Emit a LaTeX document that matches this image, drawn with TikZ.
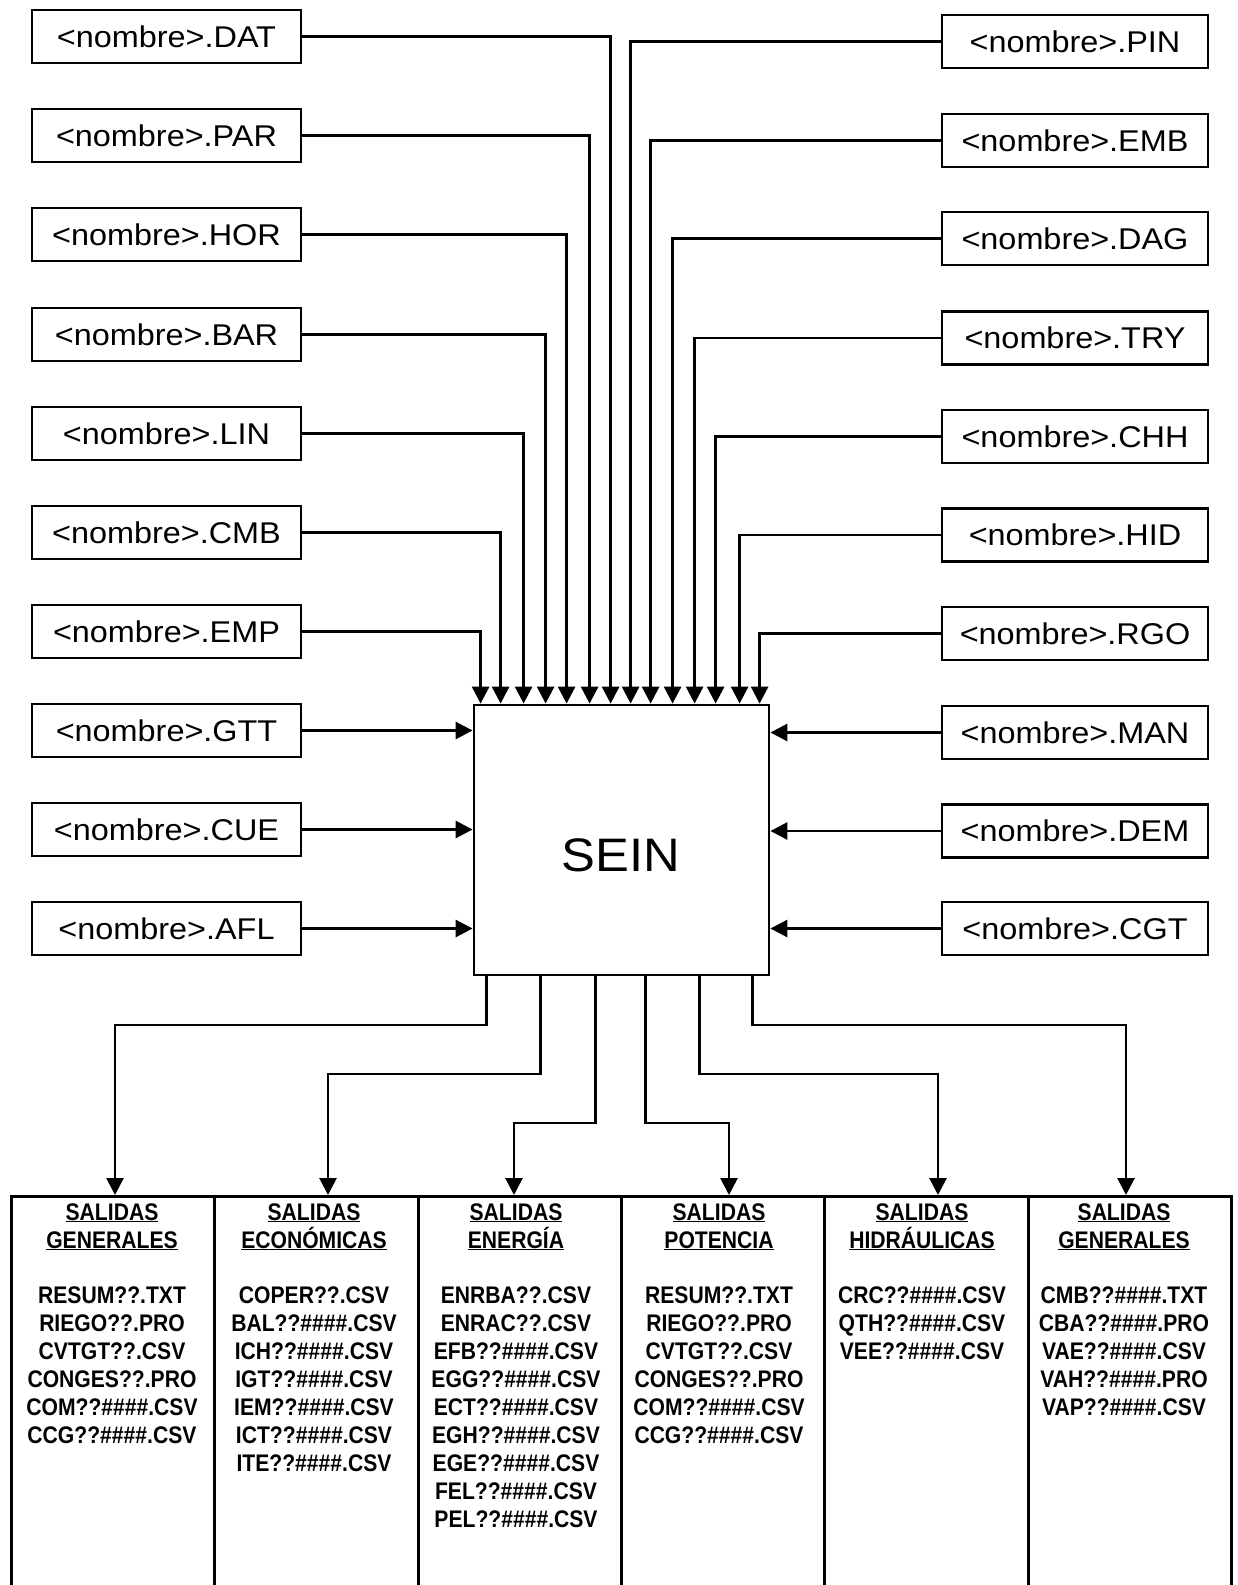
\documentclass[tikz,border=0pt]{standalone}
\usepackage{fontspec}
\setmainfont{Liberation Sans}
\newfontfamily\boxfont[FakeStretch=1.08]{Liberation Sans}
\newfontfamily\listfont[FakeStretch=0.88]{Liberation Sans}
\usetikzlibrary{arrows.meta}
\begin{document}
\begin{tikzpicture}[x=1pt,y=-1pt,
  lbox/.style={draw, line width=2.8pt, minimum width=269pt, minimum height=53pt, inner sep=0pt,
    font=\boxfont\fontsize{30}{36}\selectfont},
  rbox/.style={lbox, minimum width=266pt},
  conn/.style={line width=2.8pt},
  arr/.style={conn, -{Triangle[length=17pt,width=17pt]}},
  col/.style={draw, line width=3pt, minimum width=203.33pt, minimum height=430pt, anchor=north west, inner sep=0pt},
  ltxt/.style={font=\listfont\bfseries\fontsize{24}{28}\selectfont, anchor=base, inner sep=0pt}
]
\useasboundingbox[fill=white] (0,0) rectangle (1237,1585);

% left input boxes
\foreach \n/\t/\y in {dat/DAT/36.5, par/PAR/135.5, hor/HOR/234.5, bar/BAR/334.5, lin/LIN/433.5,
  cmb/CMB/532.5, emp/EMP/631.5, gtt/GTT/730.5, cue/CUE/829.5, afl/AFL/928.5}
  \node[lbox] (\n) at (166.5,\y) {<nombre>.\t};

% right input boxes
\foreach \n/\t/\y in {pin/PIN/41.5, emb/EMB/140.5, dag/DAG/238.5, try/TRY/338, chh/CHH/436.5,
  hid/HID/535, rgo/RGO/633.5, man/MAN/732.5, dem/DEM/831, cgt/CGT/928.5}
  \node[rbox] (\n) at (1075,\y) {<nombre>.\t};

% central block
\node[draw, line width=2.8pt, minimum width=295pt, minimum height=270pt, inner sep=0pt] (sein) at (621.5,840) {};
\node[font=\boxfont\fontsize{47}{52}\selectfont, inner sep=0pt] (seinlbl) at (621,855) {SEIN};

% top connectors
\foreach \n/\dx in {dat/138, par/117, hor/94, bar/73, lin/51, cmb/28, emp/8}
  \draw[arr] (\n.east) -| ([xshift=\dx pt]sein.north west);
\foreach \n/\dx in {pin/158, emb/178, dag/200, try/222, chh/243, hid/267, rgo/287}
  \draw[arr] (\n.west) -| ([xshift=\dx pt]sein.north west);

% side connectors
\foreach \n in {gtt,cue,afl}
  \draw[arr] (\n.east) -- (\n.east -| sein.west);
\foreach \n in {man,dem,cgt}
  \draw[arr] (\n.west) -- (\n.west -| sein.east);

% output table columns
\node[col] (c1) at (10,1195) {};
\node[col] (c2) at (213.33,1195) {};
\node[col] (c3) at (416.67,1195) {};
\node[col] (c4) at (620,1195) {};
\node[col] (c5) at (823.33,1195) {};
\node[col] (c6) at (1026.67,1195) {};

% output connectors
\foreach \dx/\yy/\tx/\c in {14/1025/115/c1, 68/1074/328/c2, 123/1123/514/c3,
  173/1123/729/c4, 227/1074/938/c5, 280/1025/1126/c6}{
  \coordinate (k\c) at (\tx,\yy);
  \draw[arr] ([xshift=\dx pt]sein.south west) |- (k\c) -- (k\c |- \c.north);
}

% column texts
\foreach \c/\x/\h/\items in {
  c1/112/GENERALES/{RESUM??.TXT,RIEGO??.PRO,CVTGT??.CSV,CONGES??.PRO,COM??\#\#\#\#.CSV,CCG??\#\#\#\#.CSV},
  c2/314/ECONÓMICAS/{COPER??.CSV,BAL??\#\#\#\#.CSV,ICH??\#\#\#\#.CSV,IGT??\#\#\#\#.CSV,IEM??\#\#\#\#.CSV,ICT??\#\#\#\#.CSV,ITE??\#\#\#\#.CSV},
  c3/516/ENERGÍA/{ENRBA??.CSV,ENRAC??.CSV,EFB??\#\#\#\#.CSV,EGG??\#\#\#\#.CSV,ECT??\#\#\#\#.CSV,EGH??\#\#\#\#.CSV,EGE??\#\#\#\#.CSV,FEL??\#\#\#\#.CSV,PEL??\#\#\#\#.CSV},
  c4/719/POTENCIA/{RESUM??.TXT,RIEGO??.PRO,CVTGT??.CSV,CONGES??.PRO,COM??\#\#\#\#.CSV,CCG??\#\#\#\#.CSV},
  c5/922/HIDRÁULICAS/{CRC??\#\#\#\#.CSV,QTH??\#\#\#\#.CSV,VEE??\#\#\#\#.CSV},
  c6/1124/GENERALES/{CMB??\#\#\#\#.TXT,CBA??\#\#\#\#.PRO,VAE??\#\#\#\#.CSV,VAH??\#\#\#\#.PRO,VAP??\#\#\#\#.CSV}}{
  \node[ltxt] (\c-h1) at (\x,1220) {\underline{SALIDAS}};
  \node[ltxt] (\c-h2) at (\x,1248) {\underline{\h}};
  \foreach \it [count=\i from 0] in \items
    \node[ltxt] (\c-l\i) at (\x,1303+28*\i) {\it};
}
\end{tikzpicture}
\end{document}
